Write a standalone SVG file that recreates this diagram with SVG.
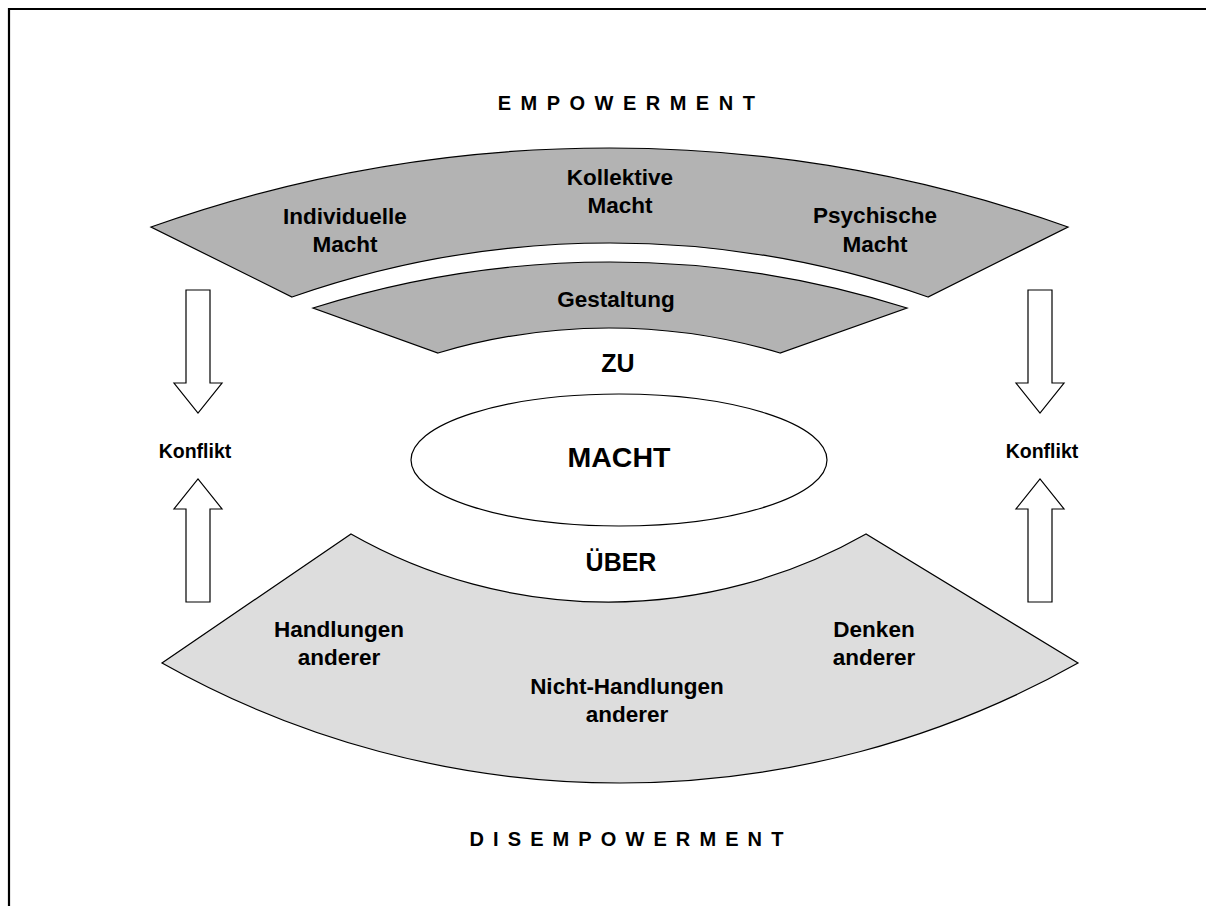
<svg xmlns="http://www.w3.org/2000/svg" width="1206" height="906" viewBox="0 0 1206 906">
<style>
text{font-family:"Liberation Sans",Arial,sans-serif;font-weight:bold;fill:#000;text-anchor:middle}
.band{fill:#b3b3b3;stroke:#000;stroke-width:1.2}
.band2{fill:#dddddd;stroke:#000;stroke-width:1.2}
.arrow{fill:#fff;stroke:#000;stroke-width:1.2}
.lbl{font-size:22.5px}
.big{font-size:25px}
.title{font-size:20px;letter-spacing:9.5px}
.konf{font-size:19.5px}
</style>
<rect width="1206" height="906" fill="#fff"/>
<g id="frame" stroke="#000" stroke-width="2.2" fill="none">
<line x1="8" y1="9" x2="1206" y2="9"/>
<line x1="9" y1="8" x2="9" y2="906"/>
</g>
<g id="empowerment-title"><text class="title" x="631" y="110">EMPOWERMENT</text></g>
<g id="band-top">
<path class="band" d="M151,227 A1370,1370 0 0 1 1068,227 L928,297 A963,963 0 0 0 292,297 Z"/>
<text class="lbl" x="345" y="224">Individuelle</text>
<text class="lbl" x="345" y="252">Macht</text>
<text class="lbl" x="620" y="185">Kollektive</text>
<text class="lbl" x="620" y="213">Macht</text>
<text class="lbl" x="875" y="223">Psychische</text>
<text class="lbl" x="875" y="252">Macht</text>
</g>
<g id="band-gestaltung">
<path class="band" d="M313,308 A982,982 0 0 1 907,308 L780,353 A597,597 0 0 0 438,353 Z"/>
<text class="lbl" x="616" y="307">Gestaltung</text>
</g>
<g id="zu"><text class="big" x="618" y="372">ZU</text></g>
<g id="macht">
<ellipse cx="619" cy="460" rx="208" ry="66" fill="#fff" stroke="#000" stroke-width="1.2"/>
<text x="619" y="467" style="font-size:28.5px">MACHT</text>
</g>
<g id="ueber"><text class="big" x="621" y="571">ÜBER</text></g>
<g id="band-bottom">
<path class="band2" d="M351,534 A521,521 0 0 0 866,534 L1078,663 A934,934 0 0 1 162,663 Z"/>
<text class="lbl" x="339" y="637">Handlungen</text>
<text class="lbl" x="339" y="665">anderer</text>
<text class="lbl" x="627" y="694">Nicht-Handlungen</text>
<text class="lbl" x="627" y="722">anderer</text>
<text class="lbl" x="874" y="637">Denken</text>
<text class="lbl" x="874" y="665">anderer</text>
</g>
<g id="disempowerment-title"><text class="title" x="631" y="846" style="letter-spacing:9.1px">DISEMPOWERMENT</text></g>
<g id="konflikt-left"><text class="konf" x="195" y="458">Konflikt</text></g>
<g id="konflikt-right"><text class="konf" x="1042" y="458">Konflikt</text></g>
<g id="connectors">
<path class="arrow" d="M186,290 H210 V383 H222 L198,413 L174,383 H186 Z"/>
<path class="arrow" d="M186,602 H210 V509 H222 L198,479 L174,509 H186 Z"/>
<path class="arrow" d="M1028,290 H1052 V383 H1064 L1040,413 L1016,383 H1028 Z"/>
<path class="arrow" d="M1028,602 H1052 V509 H1064 L1040,479 L1016,509 H1028 Z"/>
</g>
</svg>
